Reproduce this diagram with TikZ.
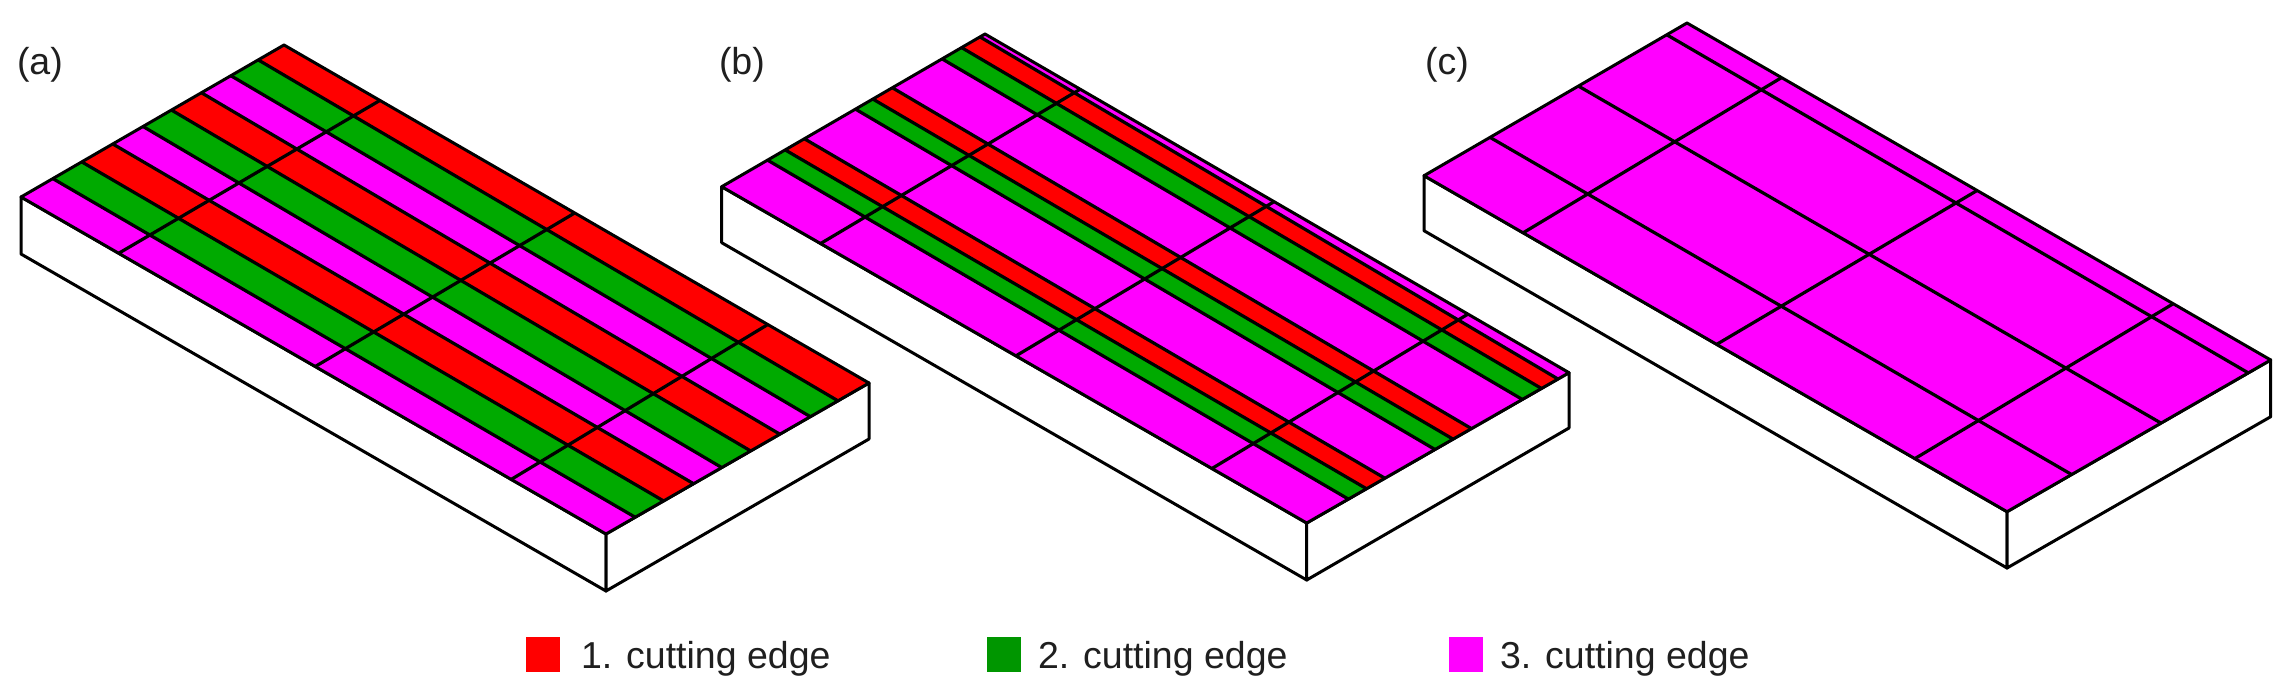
\documentclass[tikz,border=0pt]{standalone}
\usepackage{fontspec}
\setmainfont{Liberation Sans}
\usetikzlibrary{calc}
\definecolor{cutred}{RGB}{255,0,0}
\definecolor{cutgreen}{RGB}{0,170,0}
\definecolor{keygreen}{RGB}{0,150,0}
\definecolor{cutmag}{RGB}{255,0,255}
\tikzset{
  edgeline/.style={draw=black,line width=3pt,line join=round,line cap=round},
  faceline/.style={draw=black,fill=white,line width=3pt,line join=round},
  partline/.style={draw=black,line width=3.2pt,line cap=butt},
  lbl/.style={font=\fontsize{37.5pt}{40pt}\selectfont,text=black!88,anchor=base west,inner sep=0pt,outer sep=0pt},
  keybox/.style={minimum width=34pt,minimum height=34.5pt,inner sep=0pt,outer sep=0pt,anchor=north west,draw=none}
}
% #1 panel id; #2..#8 corners L,T,R,F and lower ends L',R',F'
\newcommand{\slab}[8]{%
  \coordinate (L#1) at (#2); \coordinate (T#1) at (#3);
  \coordinate (R#1) at (#4); \coordinate (F#1) at (#5);
  \coordinate (LL#1) at (#6); \coordinate (RR#1) at (#7); \coordinate (FF#1) at (#8);
  \path[faceline] (L#1) -- (LL#1) -- (FF#1) -- (F#1) -- cycle;
  \path[faceline] (F#1) -- (FF#1) -- (RR#1) -- (R#1) -- cycle;
  \fill[cutmag] (L#1) -- (T#1) -- (R#1) -- (F#1) -- cycle;
}
% #1 panel, #2 colour list colour/backstart/backend/frontstart/frontend
\newcommand{\bands}[2]{%
  \foreach \col/\a/\b/\c/\d in {#2} {
    \fill[\col] ($(L#1)!\a!(T#1)$) -- ($(L#1)!\b!(T#1)$) -- ($(F#1)!\d!(R#1)$) -- ($(F#1)!\c!(R#1)$) -- cycle;
  }%
}
% long lines: back fraction / front fraction
\newcommand{\longs}[2]{%
  \foreach \a/\c in {#2} { \draw[partline] ($(L#1)!\a!(T#1)$) -- ($(F#1)!\c!(R#1)$); }%
}
% cross cuts: fraction on L-F / fraction on T-R
\newcommand{\cuts}[2]{%
  \foreach \a/\c in {#2} { \draw[partline] ($(L#1)!\a!(F#1)$) -- ($(T#1)!\c!(R#1)$); }%
}
\newcommand{\rim}[1]{\draw[edgeline] (L#1) -- (T#1) -- (R#1) -- (F#1) -- cycle;}
\begin{document}
\begin{tikzpicture}[x=1pt,y=-1pt]
\useasboundingbox (0,0) rectangle (2294,694);

% panel (a)
\slab{a}{21,197}{284,45}{869,383}{606,534}{21,254}{869,439}{606,591}
\bands{a}{cutgreen/.121/.231/.111/.219,cutred/.231/.349/.219/.333,
  cutgreen/.464/.572/.440/.550,cutred/.572/.686/.550/.661,
  cutgreen/.798/.902/.777/.882,cutred/.902/1/.882/1}
\longs{a}{.121/.111,.231/.219,.349/.333,.464/.440,.572/.550,.686/.661,.798/.777,.902/.882}
\cuts{a}{.167/.164,.503/.497,.838/.827}
\rim{a}

% panel (b)
\slab{b}{721.7,186.7}{985,34}{1569,372.7}{1306.7,523}{721.7,242.7}{1569,428}{1306.7,580}
\bands{b}{cutgreen/.174/.241/.159/.228,cutred/.241/.314/.228/.298,
  cutgreen/.508/.574/.489/.558,cutred/.574/.648/.558/.628,
  cutgreen/.837/.911/.822/.895,cutred/.911/.981/.895/.958}
\longs{b}{.174/.159,.241/.228,.314/.298,.508/.489,.574/.558,.648/.628,.837/.822,.911/.895,.981/.958}
\cuts{b}{.169/.163,.503/.495,.838/.827}
\rim{b}

% panel (c)
\slab{c}{1424,175.7}{1687,23}{2270.7,360}{2007,511.7}{1424,230.7}{2270.7,416.7}{2007,568}
\longs{c}{.251/.245,.587/.584,.923/.915}
\cuts{c}{.170/.162,.502/.497,.842/.833}
\rim{c}

% panel letters
\node[lbl] (labela) at (17,74) {(a)};
\node[lbl] (labelb) at (719,74) {(b)};
\node[lbl] (labelc) at (1425,74) {(c)};

% legend
\node[keybox,fill=cutred] (key1) at (525.5,637.3) {};
\node[lbl] (text1) at (581,668.3) {1. cutting edge};
\node[keybox,fill=keygreen] (key2) at (986.7,637.3) {};
\node[lbl] (text2) at (1038,668.3) {2. cutting edge};
\node[keybox,fill=cutmag] (key3) at (1449,637.3) {};
\node[lbl] (text3) at (1500,668.3) {3. cutting edge};
\end{tikzpicture}
\end{document}
